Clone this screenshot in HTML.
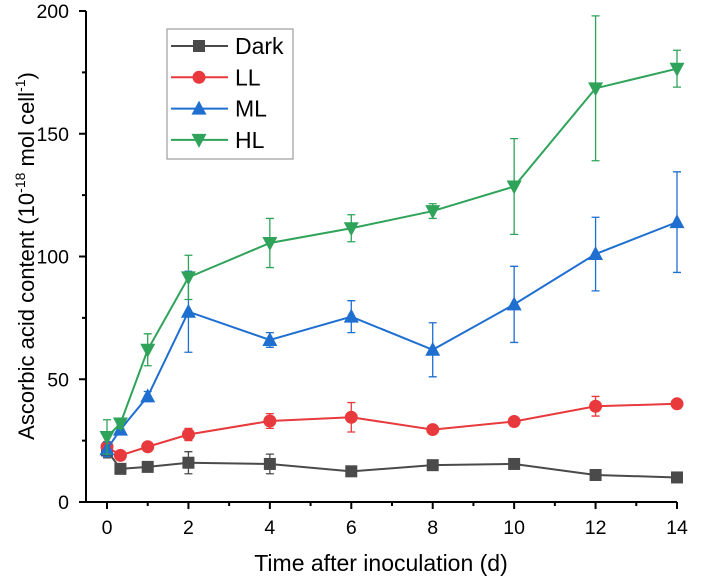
<!DOCTYPE html>
<html><head><meta charset="utf-8"><style>
body{margin:0;background:#fff;}
svg{display:block;font-family:"Liberation Sans",Arial,sans-serif;}
</style></head><body>
<svg id="chart" width="701" height="582">
<g id="axes"></g>
<g id="series"></g>
<g id="legend"></g>
<text x="381" y="571" font-size="23" text-anchor="middle">Time after inoculation (d)</text>
<text transform="translate(34,256) rotate(-90)" font-size="22" text-anchor="middle">Ascorbic acid content (10<tspan dy="-9" font-size="14">-18</tspan><tspan dy="9"> mol cell</tspan><tspan dy="-9" font-size="14">-1</tspan><tspan dy="9">)</tspan></text>
</svg>
<script>
const times=[0,0.33,1,2,4,6,8,10,12,14];
const darkVals=[21,13.5,14.3,16,15.5,12.5,15,15.5,11,10];
const darkErr=[3,1,1,4.5,4,1,1,1,1.5,1.5];
const llVals=[22.5,19,22.5,27.5,33,34.5,29.5,32.8,39,40];
const llErr=[2,1,1,2.5,3,6,1,1,4,1];
const mlVals=[21.5,29.5,43,77.5,66,75.5,62,80.5,101,114];
const mlErr=[3,2,2,16.5,3,6.5,11,15.5,15,20.5];
const hlVals=[26.5,32,62,91.5,105.5,111.5,118.5,128.5,168.5,176.5];
const hlErr=[7,2,6.5,9,10,5.5,3,19.5,29.5,7.5];
const xTicks=[0,2,4,6,8,10,12,14];
const yTicks=[0,50,100,150,200];
const seriesNames=["Dark","LL","ML","HL"];
const NS="http://www.w3.org/2000/svg";
const X=v=>107+v*(677-107)/14;
const Y=v=>502-v*(502-11)/200;
function mk(p,tag,a){const e=document.createElementNS(NS,tag);for(const k in a)e.setAttribute(k,a[k]);p.appendChild(e);return e;}
const axes=document.getElementById('axes');
let l=mk(axes,'path',{d:`M86 11H80M86 11V502H677`,stroke:'#000','stroke-width':2,fill:'none'});


for(let v=0;v<=14;v++){const major=v%2===0;let t=mk(axes,'line',{x1:X(v),x2:X(v),y1:502,y2:major?509:506,stroke:'#000','stroke-width':2});

}
xTicks.forEach(v=>{let t=mk(axes,'text',{x:X(v),y:534,'font-size':19.5,'text-anchor':'middle'});t.textContent=v;

});
for(let v=0;v<=200;v+=25){const major=v%50===0;let t=mk(axes,'line',{x1:major?79:82,x2:86,y1:Y(v),y2:Y(v),stroke:'#000','stroke-width':2});

}
yTicks.forEach(v=>{let t=mk(axes,'text',{x:69,y:Y(v)+7,'font-size':19.5,'text-anchor':'end'});t.textContent=v;

});
const colors=['#4a4a4a','#e8393c','#1f6fd1','#2fa35a'];
const allVals=[darkVals,llVals,mlVals,hlVals],allErr=[darkErr,llErr,mlErr,hlErr];
function marker(g,i,x,y){
 if(i===0)return mk(g,'rect',{x:x-6,y:y-6,width:12,height:12,fill:colors[i]});
 if(i===1)return mk(g,'circle',{cx:x,cy:y,r:6.5,fill:colors[i]});
 if(i===2)return mk(g,'path',{d:`M${x} ${y-8}L${x+7.5} ${y+6}H${x-7.5}Z`,fill:colors[i]});
 return mk(g,'path',{d:`M${x} ${y+8}L${x+7.5} ${y-6}H${x-7.5}Z`,fill:colors[i]});
}
const sg=document.getElementById('series');
allVals.forEach((vals,i)=>{
 const g=mk(sg,'g',{});
 
 
 vals.forEach((v,j)=>{const x=X(times[j]),e=allErr[i][j];
  let eb=mk(g,'path',{d:`M${x} ${Y(v-e)}V${Y(v+e)}M${x-4} ${Y(v-e)}h8M${x-4} ${Y(v+e)}h8`,stroke:colors[i],'stroke-width':1.3,fill:'none'});
  
  });
 let ln=mk(g,'polyline',{points:vals.map((v,j)=>X(times[j])+','+Y(v)).join(' '),stroke:colors[i],'stroke-width':2,fill:'none'});
 
 
 vals.forEach((v,j)=>{let m=marker(g,i,X(times[j]),Y(v));
  
  });
});
const lg=document.getElementById('legend');
let box=mk(lg,'rect',{x:167,y:29,width:126,height:130,fill:'#fff',stroke:'#888','stroke-width':1});


seriesNames.forEach((n,i)=>{const y=46+i*31.3;const g=mk(lg,'g',{});
 
 
 mk(g,'line',{x1:171,x2:228,y1:y,y2:y,stroke:colors[i],'stroke-width':2});
 marker(g,i,199,y);
 const t=mk(g,'text',{x:235,y:y+8,'font-size':23});t.textContent=n;});
</script>
</body></html>
